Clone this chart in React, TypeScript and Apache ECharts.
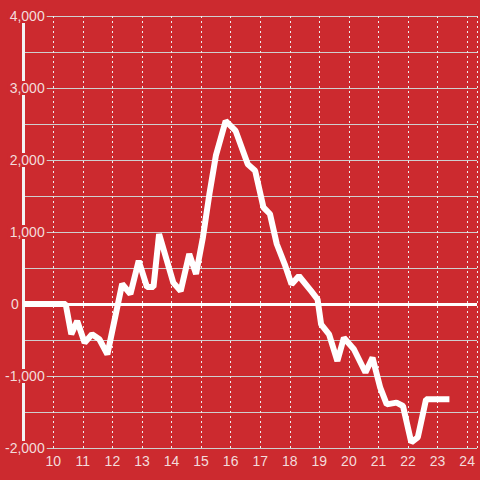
import React, { useEffect, useRef } from "react";
import * as echarts from "echarts";

const xValues = [
  9, 10.42, 10.61, 10.81, 11.06, 11.31, 11.56, 11.83, 12.33, 12.61, 12.89, 13.17,
  13.39, 13.58, 14.06, 14.31, 14.6, 14.83, 15.06, 15.28, 15.5, 15.83, 16.17, 16.58,
  16.83, 17.11, 17.33, 17.56, 17.83, 18.06, 18.31, 18.72, 18.94, 19.06, 19.33, 19.61,
  19.83, 20.17, 20.56, 20.8, 21.06, 21.28, 21.61, 21.83, 22.11, 22.33, 22.61, 23.4,
];
const yValues = [
  0, 0, -421, -236, -537, -421, -490, -699, 278, 139, 600, 236,
  236, 972, 297, 181, 694, 417, 921, 1523, 2060, 2542, 2403, 1940,
  1850, 1343, 1250, 833, 551, 273, 389, 181, 65, -282, -421, -792,
  -468, -629, -951, -745, -1162, -1394, -1370, -1417, -1921, -1852, -1324, -1324,
];

const X_MIN = 9;
const X_MAX = 24.333;
const Y_MIN = -2000;
const Y_MAX = 4000;

const BG = "#cc2a2f";
const LABEL = "#f3dcdc";

export default function App() {
  const ref = useRef<HTMLDivElement>(null);
  useEffect(() => {
    if (!ref.current) return;
    const chart = echarts.init(ref.current, undefined, { renderer: "svg" });
    chart.setOption({
      animation: false,
      backgroundColor: BG,
      grid: { left: 20, right: 0, top: 16, bottom: 32 },
      xAxis: {
        type: "value",
        min: X_MIN,
        max: X_MAX,
        interval: 1,
        axisLine: { show: false },
        axisTick: { show: false },
        axisLabel: {
          color: LABEL,
          fontSize: 14,
          fontFamily: "Liberation Sans, Arial, sans-serif",
          margin: 6,
          formatter: (v: number) =>
            Number.isInteger(Math.round(v * 1000) / 1000) && v >= 10 && Math.abs(v - Math.round(v)) < 1e-6
              ? String(Math.round(v))
              : "",
        },
        splitLine: {
          show: true,
          lineStyle: { color: "#eeeeee", type: [2, 3], width: 1 },
        },
      },
      yAxis: {
        type: "value",
        min: Y_MIN,
        max: Y_MAX,
        interval: 500,
        axisLine: { show: true, lineStyle: { color: "#f4f4f4", width: 3 } },
        axisTick: { show: false },
        axisLabel: {
          margin: -23,
          color: LABEL,
          fontSize: 14,
          fontFamily: "Liberation Sans, Arial, sans-serif",
          formatter: (v: number) => {
            if (v === 0) return "{z|0}";
            if (v % 1000 === 0) return "{a|" + v.toLocaleString("en-US") + "}";
            return "";
          },
          rich: {
            a: {
              color: LABEL,
              fontSize: 14,
              fontFamily: "Liberation Sans, Arial, sans-serif",
              backgroundColor: BG,
              padding: [0, 2, 0, 2],
              lineHeight: 16,
            },
            z: {
              color: LABEL,
              fontSize: 14,
              fontFamily: "Liberation Sans, Arial, sans-serif",
              padding: [0, 28, 0, 0],
              lineHeight: 16,
            },
          },
        },
        splitLine: { show: true, lineStyle: { color: "#cfcfcf", width: 1 } },
      },
      series: [
        {
          type: "line",
          data: xValues.map((x, i) => [x, yValues[i]]),
          showSymbol: false,
          symbol: "none",
          lineStyle: { color: "#ffffff", width: 6 },
          markLine: {
            silent: true,
            symbol: "none",
            label: { show: false },
            lineStyle: { color: "#ffffff", width: 3, type: "solid" },
            data: [{ yAxis: 0 }],
          },
        },
      ],
    });
    return () => chart.dispose();
  }, []);
  return (
    <div
      ref={ref}
      style={{ position: "absolute", left: 0, top: 0, width: 480, height: 480 }}
    />
  );
}
